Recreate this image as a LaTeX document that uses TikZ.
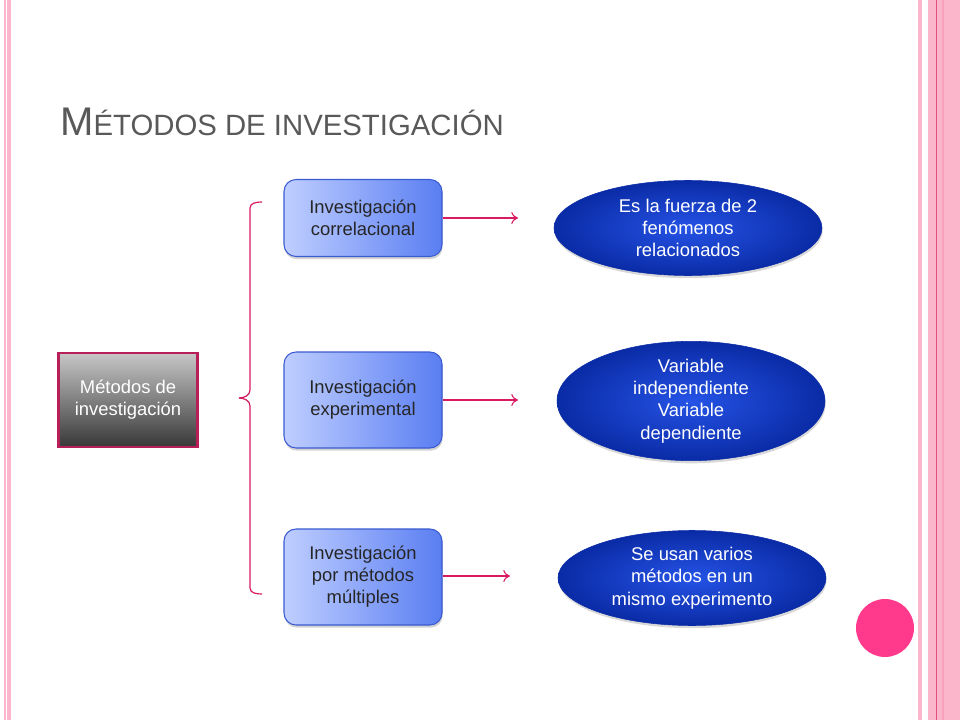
\documentclass[tikz,border=0pt]{standalone}
\usepackage{fontspec}
\setmainfont{Liberation Sans}
\usetikzlibrary{shadows,arrows.meta,shapes.geometric}
\definecolor{pinkbar}{HTML}{FBB6CB}
\definecolor{pinkline}{HTML}{E0507F}
\definecolor{crimson}{HTML}{D81B60}
\definecolor{titlegray}{HTML}{595959}
\definecolor{boxborder}{HTML}{3A5BD0}
\definecolor{boxlight}{HTML}{BFCEFF}
\definecolor{boxdark}{HTML}{5A7EF2}
\definecolor{ellin}{HTML}{2553E6}
\definecolor{ellout}{HTML}{0A2BA6}
\definecolor{dotpink}{HTML}{FF3A8C}
\definecolor{rootborder}{HTML}{B81E58}
\tikzset{
  methodbox/.style={draw=boxborder, line width=0.8pt, rounded corners=9pt,
    left color=boxlight, right color=boxdark, minimum width=158*0.75pt,
    align=center, text=black!85, font=\fontsize{13.8}{16.5}\selectfont, inner sep=1pt,
    drop shadow={shadow xshift=0.5pt, shadow yshift=-2pt, opacity=0.35}},
  infoell/.style={ellipse, inner color=ellin, outer color=ellout, draw=ellout,
    line width=0.4pt, minimum width=268*0.75pt, minimum height=95*0.75pt,
    align=center, text=white, font=\fontsize{13.8}{16.8}\selectfont, inner sep=0pt,
    drop shadow={shadow xshift=0.5pt, shadow yshift=-2pt, opacity=0.3}},
  rootbox/.style={draw=rootborder, line width=2.2pt, top color=black!22, bottom color=black!78,
    minimum width=139*0.75pt, minimum height=94*0.75pt, align=center, text=white,
    font=\fontsize{13.8}{16.5}\selectfont, inner sep=1pt},
  link/.style={crimson, line width=0.8pt, -{To[length=5pt,width=9pt]}},
  bracket/.style={crimson, line width=0.9pt},
}
\begin{document}
\begin{tikzpicture}[x=0.75pt,y=-0.75pt]
\useasboundingbox (0,0) rectangle (960,720);
\fill[white] (0,0) rectangle (960,720);
% side bars
\fill[pinkbar] (4,0) rectangle (11,720);
\fill[white] (6,0) rectangle (7,720);
\fill[pinkbar] (918,0) rectangle (922,720);
\fill[pinkbar] (928,0) rectangle (960,720);
\draw[pinkline, line width=0.8pt] (936.5,0) -- (936.5,720);
\fill[pinkbar!80!pinkline] (942,0) rectangle (944,720);
% title
\node[anchor=base west, text=titlegray, inner sep=0pt] (title) at (60,136)
  {\fontsize{30}{33}\selectfont M\fontsize{22}{25}\selectfont ÉTODOS DE INVESTIGACIÓN};
% root
\node[rootbox] (root) at (128,400) {Métodos de\\investigación};
% method boxes
\node[methodbox, minimum height=77*0.75pt] (m1) at (363,218) {Investigación\\correlacional};
\node[methodbox, minimum height=96*0.75pt] (m2) at (363,400) {Investigación\\experimental};
\node[methodbox, minimum height=96*0.75pt] (m3) at (363,577) {Investigación\\por métodos\\múltiples};
% ellipses
\node[infoell] (e1) at (688,228) {Es la fuerza de 2\\fenómenos\\relacionados};
\node[infoell] (e2) at (691,401) {Variable\\independiente\\Variable\\dependiente};
\node[infoell] (e3) at (692,578) {Se usan varios\\métodos en un\\mismo experimento};
% bracket
\coordinate (bt) at (262,202);
\coordinate (bm) at (239,398);
\coordinate (bb) at (262,594);
\draw[bracket] (bt) to[out=180,in=90] (250,208) -- (250,390) to[out=-90,in=0] (bm);
\draw[bracket] (bm) to[out=0,in=90] (250,406) -- (250,588) to[out=-90,in=180] (bb);
% arrows
\coordinate (a1) at (518,218);
\coordinate (a2) at (518,400);
\coordinate (a3) at (510,576);
\draw[link] (m1.east) -- (a1);
\draw[link] (m2.east) -- (a2);
\draw[link] (m3.east |- a3) -- (a3);
% pink dot
\fill[dotpink] (885,628) ellipse (29 and 29);
\end{tikzpicture}
\end{document}
